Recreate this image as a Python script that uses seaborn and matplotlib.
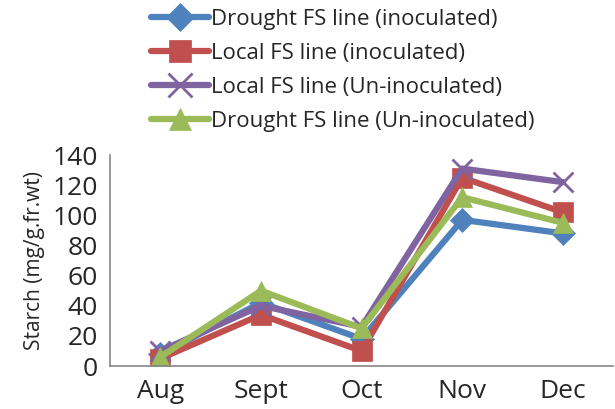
import matplotlib
matplotlib.use("Agg")
import matplotlib.pyplot as plt
import seaborn as sns
import pandas as pd
from matplotlib.ticker import FixedLocator

months = ["Aug", "Sept", "Oct", "Nov", "Dec"]
series_names = [
    "Drought FS line (inoculated)",
    "Local FS line (inoculated)",
    "Local FS line (Un-inoculated)",
    "Drought FS line (Un-inoculated)",
]
drought_inoc = [8, 42, 18, 97, 88]
local_inoc = [5, 34, 10, 125, 102]
local_uninoc = [10, 40, 26, 131, 122]
drought_uninoc = [6, 50, 25, 112, 95]
yticks = [0, 20, 40, 60, 80, 100, 120, 140]

values = [drought_inoc, local_inoc, local_uninoc, drought_uninoc]
rows = []
for name, vals in zip(series_names, values):
    for i, (m, v) in enumerate(zip(months, vals)):
        rows.append({"Month": m, "pos": i, "Series": name, "Starch": v})
df = pd.DataFrame(rows)

colors = ["#4F81BD", "#C0504D", "#8064A2", "#9BBB59"]
markers = ["D", "s", "x", "^"]
msizes = [12, 14, 15, 14]

sns.set_style("white")
plt.rcParams["font.family"] = ["Open Sans", "DejaVu Sans"]

fig = plt.figure(figsize=(6.15, 4.09), dpi=100)
ax = fig.add_axes([0.179, 0.105, 0.818, 0.516])

for name, c, mk, ms in zip(series_names, colors, markers, msizes):
    sub = df[df["Series"] == name]
    sns.lineplot(data=sub, x="pos", y="Starch", ax=ax, color=c, linewidth=4.5,
                 marker=mk, markersize=ms, markeredgecolor=c,
                 markeredgewidth=2 if mk == "x" else 0.5, label=name, legend=False)

ax.set_xlim(-0.5, 4.5)
ax.set_ylim(0, 140)
ax.set_yticks(yticks)
ax.set_yticklabels([str(t) for t in yticks], fontsize=19)
ax.set_xticks(range(len(months)))
ax.set_xticklabels(months, fontsize=19)
ax.xaxis.set_minor_locator(FixedLocator([-0.5, 0.5, 1.5, 2.5, 3.5, 4.5]))
ax.tick_params(axis="x", which="major", length=0, pad=9)
ax.tick_params(axis="x", which="minor", length=7, width=1.2, color="#868686", direction="out")
ax.tick_params(axis="y", which="major", length=5, width=1.2, color="#868686", direction="out", pad=4)
ax.set_xlabel("")
ax.set_ylabel("Starch (mg/g.fr.wt)", fontsize=15, labelpad=5)
for s in ["top", "right"]:
    ax.spines[s].set_visible(False)
for s in ["left", "bottom"]:
    ax.spines[s].set_color("#868686")
    ax.spines[s].set_linewidth(1.2)

handles, labels = ax.get_legend_handles_labels()
leg = fig.legend(handles, labels, loc="upper left", bbox_to_anchor=(0.231, 1.0),
                 frameon=False, fontsize=16, handlelength=2.6, handletextpad=0.1,
                 labelspacing=0.59, borderaxespad=0.0, markerscale=1.15)

fig.savefig("out.png", dpi=100)
